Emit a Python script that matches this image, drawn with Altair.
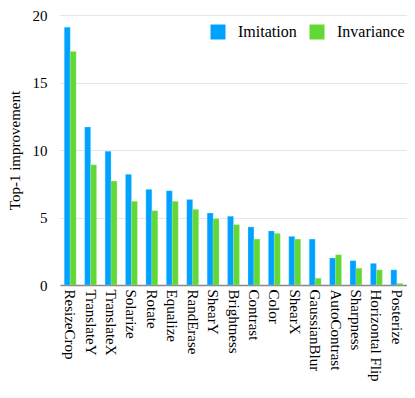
import altair as alt
import pandas as pd

categories = ["ResizeCrop", "TranslateY", "TranslateX", "Solarize", "Rotate", "Equalize",
              "RandErase", "ShearY", "Brightness", "Contrast", "Color", "ShearX",
              "GaussianBlur", "AutoContrast", "Sharpness", "Horizontal Flip", "Posterize"]
imitation = [19.1, 11.7, 9.9, 8.2, 7.08, 6.98, 6.33, 5.33, 5.09, 4.3, 4.0, 3.6, 3.4, 2.0, 1.8, 1.6, 1.12]
invariance = [17.3, 8.9, 7.7, 6.2, 5.5, 6.2, 5.6, 4.9, 4.47, 3.4, 3.82, 3.4, 0.5, 2.24, 1.24, 1.12, 0.12]
series = ["Imitation", "Invariance"]
colors = ["#00A2FF", "#62D836"]

rows = []
for c, a, b in zip(categories, imitation, invariance):
    rows.append({"aug": c, "series": series[0], "value": a})
    rows.append({"aug": c, "series": series[1], "value": b})
df = pd.DataFrame(rows)

font = "Liberation Serif"

chart = alt.Chart(df).mark_bar(strokeWidth=0.6, strokeOpacity=0.5).encode(
    x=alt.X("aug:N", sort=categories, title=None,
            scale=alt.Scale(paddingInner=0.42, paddingOuter=0.21),
            axis=alt.Axis(labelAngle=90, labelFont=font, labelFontSize=15, labelColor="black",
                          ticks=False, domainColor="#888888", domainWidth=1.5, labelPadding=4,
                          labelAlign="left", labelBaseline="middle")),
    xOffset=alt.XOffset("series:N", sort=series, scale=alt.Scale(paddingInner=0, paddingOuter=0)),
    y=alt.Y("value:Q", title="Top-1 improvement",
            scale=alt.Scale(domain=[0, 20], nice=False),
            axis=alt.Axis(values=[0, 5, 10, 15, 20], labelFont=font, labelFontSize=15,
                          labelColor="black", titleFont=font, titleFontSize=15,
                          titleFontWeight="normal", titleColor="black", ticks=False,
                          domain=False, gridDash=[1, 1], gridColor="#cccccc",
                          labelPadding=13, titlePadding=10)),
    color=alt.Color("series:N", sort=series,
                    scale=alt.Scale(domain=series, range=colors),
                    legend=alt.Legend(title=None, orient="none", direction="horizontal",
                                      legendX=150, legendY=9, symbolType="square",
                                      symbolSize=225, symbolStrokeWidth=0, labelFont=font,
                                      labelFontSize=16, labelColor="black", columnPadding=12,
                                      labelOffset=12, padding=0)),
    stroke=alt.Stroke("series:N", sort=series,
                      scale=alt.Scale(domain=series, range=["#9fdcff", "#b5ef9f"]), legend=None),
).properties(
    width=347, height=270,
    autosize=alt.AutoSizeParams(type="none"),
    padding={"left": 52, "top": 7, "right": 0, "bottom": 100}
).configure(font=font).configure_view(stroke=None)

chart.save("out.html", embed_options={"renderer": "svg", "actions": False})
